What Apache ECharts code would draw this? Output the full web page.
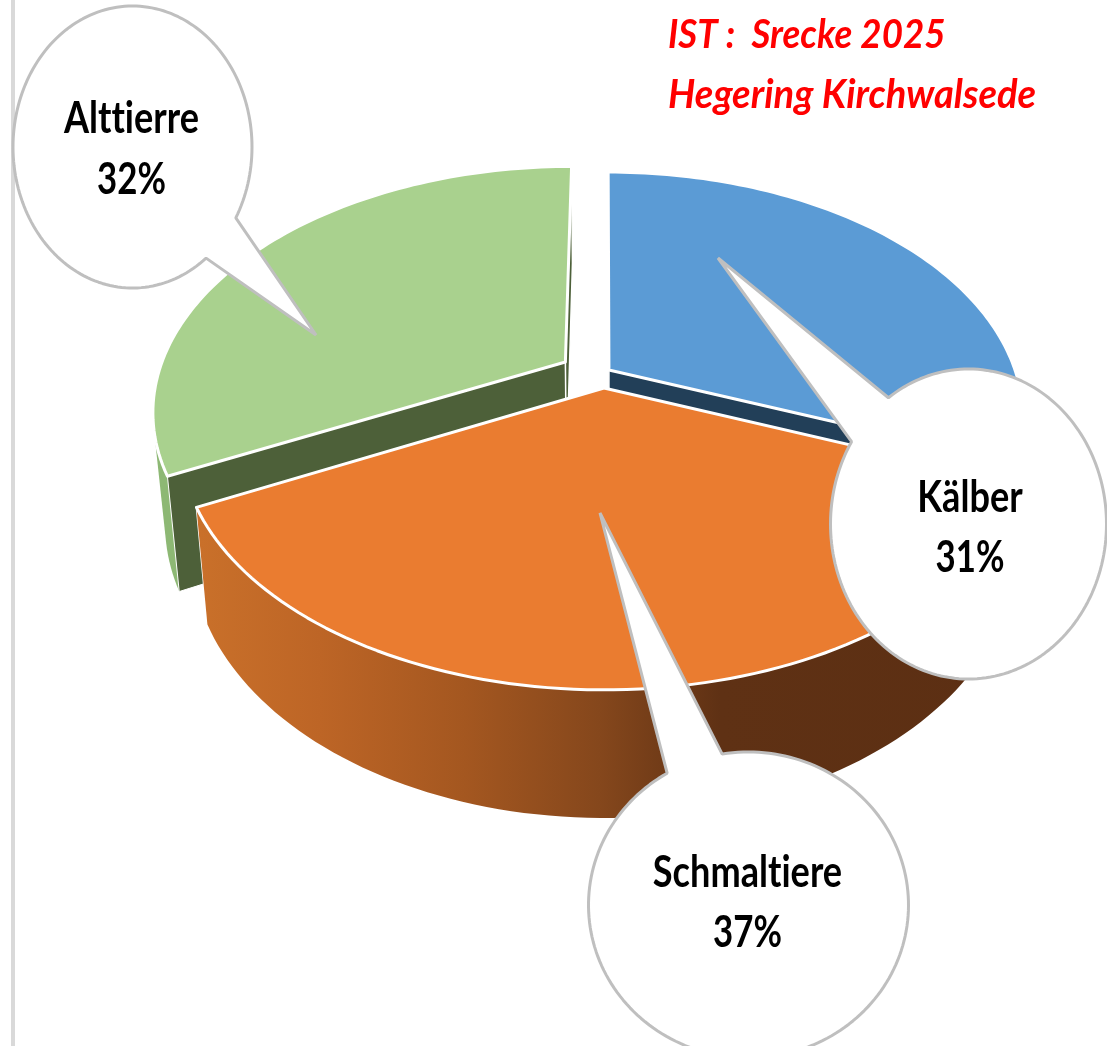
<!DOCTYPE html>
<html>
<head>
<meta charset="utf-8">
<title>IST: Strecke 2025</title>
<style>html,body{margin:0;padding:0;background:#fff}#chart{width:1107px;height:1046px}</style>
<script src="https://cdn.jsdelivr.net/npm/echarts@6/dist/echarts.min.js"></script>
</head>
<body>
<div id="chart"></div>
<script>
// ---- data ----
const categories = ['Kälber', 'Schmaltiere', 'Alttierre'];
const shares = [31, 36.6, 32.4];
const titleLines = ['IST :  Srecke 2025', 'Hegering Kirchwalsede'];

// ---- perspective pie layout (not data) ----
const view = { cx: 604, cy: 388, a: 412, b: 243, k: 0.195, depth: 110, sx: 0.973, sy: 1.06 };
const explode = [{ u: 0.0122, v: 0.0749, su: 1 }, { u: 0, v: 0, su: 1.01 }, { u: -0.0957, v: 0.1092, su: 1 }];
const paintOrder = [1, 2, 0];
const faceColors = ['#5B9BD5', '#EA7C30', '#A9D18E'];
const innerColors = ['#223F58', '#5E3013', '#4D6039'];
const wallColors = ['#3A6D9C', null, '#8DB874'];
const orangeWall = {
  type: 'linear', x: 200, y: 0, x2: 1000, y2: 0, global: true,
  colorStops: [
    { offset: 0, color: '#C9702A' }, { offset: 0.15, color: '#BD6526' },
    { offset: 0.33, color: '#A45720' }, { offset: 0.5, color: '#85471C' },
    { offset: 0.65, color: '#5F3114' }, { offset: 1, color: '#5C2F13' }
  ]
};
const callouts = [
  { c: [968.5, 524], r: [138, 155], base: [[888, 397], [852, 442]], tip: [718, 258], lines: [-12, 48], cx: 970 },
  { c: [748.5, 905], r: [160, 153], base: [[722, 753], [667, 773]], tip: [600, 513], lines: [-18, 42], cx: 747.5 },
  { c: [132.5, 147], r: [119.5, 141], base: [[236, 218], [206, 258]], tip: [316, 335], lines: [-14, 47], cx: 131.5 }
];
const baselineShift = 35;

// Letter spacing of a hair keeps "tt" and "ti" as separate glyphs, as in the reference.
const plainFillText = CanvasRenderingContext2D.prototype.fillText;
CanvasRenderingContext2D.prototype.fillText = function () {
  this.letterSpacing = '0.01px';
  return plainFillText.apply(this, arguments);
};

const total = shares.reduce((s, x) => s + x, 0);
const startAngle = i => shares.slice(0, i).reduce((s, x) => s + x, 0) / total * 2 * Math.PI;

function project(i, u, v, lower) {
  const U = u * explode[i].su + explode[i].u, V = v + explode[i].v, w = 1 + view.k * V;
  const x = view.a * U / w, y = -view.b * V / w;
  return lower ? [view.cx + x * view.sx, view.cy + view.depth + y * view.sy] : [view.cx + x, view.cy + y];
}
function rim(i, from, to, lower) {
  const pts = [], n = 90;
  for (let j = 0; j <= n; j++) {
    const t = from + (to - from) * j / n;
    pts.push(project(i, Math.sin(t), Math.cos(t), lower));
  }
  return pts;
}
function hull(points) {
  const p = points.slice().sort((a, b) => a[0] - b[0] || a[1] - b[1]);
  const cross = (o, a, b) => (a[0] - o[0]) * (b[1] - o[1]) - (a[1] - o[1]) * (b[0] - o[0]);
  const half = list => {
    const out = [];
    list.forEach(q => {
      while (out.length > 1 && cross(out[out.length - 2], out[out.length - 1], q) <= 0) out.pop();
      out.push(q);
    });
    out.pop();
    return out;
  };
  return half(p).concat(half(p.slice().reverse()));
}
function poly(points, fill, z2, stroke, lw) {
  return {
    type: 'polygon', z2: z2, shape: { points: points },
    style: { fill: fill, stroke: stroke || fill, lineWidth: lw === undefined ? 0.5 : lw, lineJoin: 'round' }
  };
}

function renderSlice(params, api) {
  const i = params.dataIndex;
  const from = startAngle(i), to = from + api.value(0) / total * 2 * Math.PI;
  const base = paintOrder[i] * 10;
  const apexT = project(i, 0, 0, false), apexB = project(i, 0, 0, true);
  const topRim = rim(i, from, to, false), lowRim = rim(i, from, to, true);
  const children = [];
  const startT = topRim[0], startB = lowRim[0];
  const endT = topRim[topRim.length - 1], endB = lowRim[lowRim.length - 1];
  // outer wall
  if (i === 1) {
    children.push(poly(topRim.concat(lowRim.slice().reverse()), orangeWall, base + 3, 'rgba(0,0,0,0)', 0));
  } else {
    children.push(poly(hull(topRim.concat(lowRim)), wallColors[i], base, 'rgba(0,0,0,0)', 0));
  }
  // inner radial faces
  children.push(poly([apexT, startT, startB, apexB], innerColors[i], base + 1, '#fff', 1));
  children.push(poly([apexT, endT, endB, apexB], innerColors[i], base + 2, '#fff', 1.5));
  // top face
  children.push(poly([apexT].concat(topRim), faceColors[i], base + 4, '#fff', 3));
  return { type: 'group', children: children };
}

function renderCallout(params, api) {
  const i = params.dataIndex, c = callouts[i];
  const ang = p => Math.atan2((p[1] - c.c[1]) / c.r[1], (p[0] - c.c[0]) / c.r[0]);
  const a1 = ang(c.base[0]), a2 = ang(c.base[1]);
  let sweep = a2 - a1;
  while (sweep < 0) sweep += 2 * Math.PI;
  while (sweep > 2 * Math.PI) sweep -= 2 * Math.PI;
  if (sweep < Math.PI) sweep -= 2 * Math.PI;
  const pts = [c.tip];
  for (let j = 0; j <= 180; j++) {
    const t = a1 + sweep * j / 180;
    pts.push([c.c[0] + c.r[0] * Math.cos(t), c.c[1] + c.r[1] * Math.sin(t)]);
  }
  const txt = (s, y, scale) => ({
    type: 'text', x: c.cx, y: c.c[1] + y - baselineShift, scaleX: scale, z2: 105,
    style: { text: s, x: 0, y: 0, textAlign: 'center', fill: '#000', font: 'bold 43px Lato, sans-serif' }
  });
  const pct = Math.round(api.value(0) / total * 100);
  return {
    type: 'group',
    children: [
      { type: 'polygon', z2: 100, shape: { points: pts }, style: { fill: '#fff', stroke: '#BFBFBF', lineWidth: 3, lineJoin: 'bevel' } },
      txt(categories[i], c.lines[0], 0.84),
      txt(pct + '%', c.lines[1], 0.81)
    ]
  };
}

const chart = echarts.init(document.getElementById('chart'), null, { renderer: 'canvas' });
chart.setOption({
  backgroundColor: '#fff',
  animation: false,
  graphic: [
    { type: 'rect', shape: { x: 11, y: 0, width: 4, height: 1046 }, style: { fill: '#D9D9D9' }, silent: true },
    {
      type: 'text', x: 668, y: 48 - baselineShift + 1, scaleX: 0.895, silent: true,
      style: { text: titleLines[0], x: 0, y: 0, fill: '#FF0000', font: 'italic bold 41px Lato, sans-serif' }
    },
    {
      type: 'text', x: 668, y: 108 - baselineShift + 1, scaleX: 0.93, silent: true,
      style: { text: titleLines[1], x: 0, y: 0, fill: '#FF0000', font: 'italic bold 41px Lato, sans-serif' }
    }
  ],
  series: [
    { type: 'custom', name: 'Strecke', coordinateSystem: 'none', silent: true, z: 2, renderItem: renderSlice,
      data: shares.map((v, i) => ({ name: categories[i], value: [v] })) },
    { type: 'custom', name: 'Beschriftung', coordinateSystem: 'none', silent: true, z: 3, renderItem: renderCallout,
      data: shares.map((v, i) => ({ name: categories[i], value: [v] })) }
  ]
});
</script>
</body>
</html>
